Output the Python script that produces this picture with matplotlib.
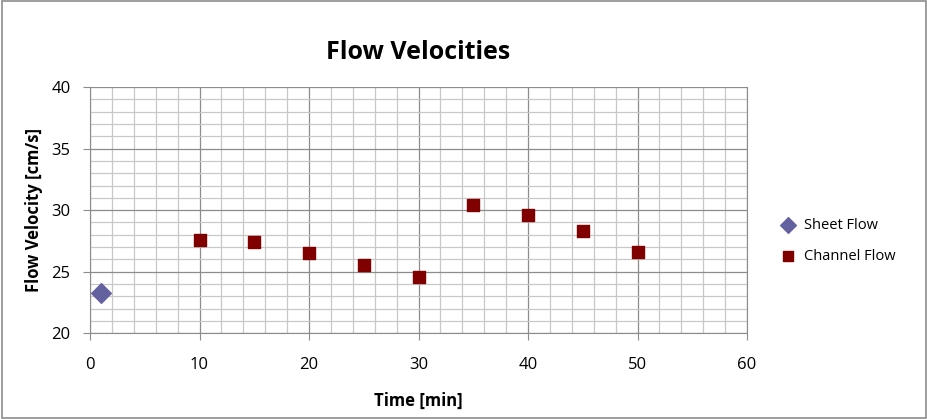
import matplotlib.pyplot as plt
from matplotlib.ticker import MultipleLocator
from matplotlib.patches import Rectangle

# data
sheet_time = [1]
sheet_vel = [23.3]
channel_time = [10, 15, 20, 25, 30, 35, 40, 45, 50]
channel_vel = [27.6, 27.4, 26.5, 25.5, 24.6, 30.4, 29.6, 28.3, 26.6]

plt.rcParams['font.family'] = ['Open Sans', 'DejaVu Sans']

fig = plt.figure(figsize=(9.28, 4.19), dpi=100)
ax = fig.add_axes([0.097, 0.205, 0.708, 0.587])

ax.set_xlim(0, 60)
ax.set_ylim(20, 40)
ax.xaxis.set_major_locator(MultipleLocator(10))
ax.xaxis.set_minor_locator(MultipleLocator(2))
ax.yaxis.set_major_locator(MultipleLocator(5))
ax.yaxis.set_minor_locator(MultipleLocator(1))

ax.grid(which='major', color='#8c8c8c', linewidth=0.9)
ax.grid(which='minor', color='#c8c8c8', linewidth=0.9)
ax.set_axisbelow(True)

for s in ['top', 'right', 'left', 'bottom']:
    ax.spines[s].set_color('#8c8c8c')
ax.spines['top'].set_visible(False)

ax.tick_params(which='major', direction='out', length=5, color='#8c8c8c',
               labelsize=12, pad=9)
ax.tick_params(axis='x', which='major', pad=12)
ax.tick_params(which='minor', length=0)

ax.scatter(sheet_time, sheet_vel, marker='D', s=100, color='#6461a0',
           label='Sheet Flow', zorder=3)
ax.scatter(channel_time, channel_vel, marker='s', s=85, color='#800000',
           label='Channel Flow', zorder=3)

ax.set_title('Flow Velocities', fontsize=18, fontweight='bold', pad=20)
ax.set_xlabel('Time [min]', fontsize=12, fontweight='bold', labelpad=14)
ax.set_ylabel('Flow Velocity [cm/s]', fontsize=12, fontweight='bold', labelpad=6)

ax.legend(loc='center left', bbox_to_anchor=(1.02, 0.375), frameon=False,
          fontsize=10.5, handletextpad=0.1, labelspacing=1.1, markerscale=0.8)

fig.patches.append(Rectangle((0.002, 0.003), 0.996, 0.994, transform=fig.transFigure,
                             fill=False, edgecolor='#8c8c8c', linewidth=1.2))

fig.savefig('out.png', dpi=100)
